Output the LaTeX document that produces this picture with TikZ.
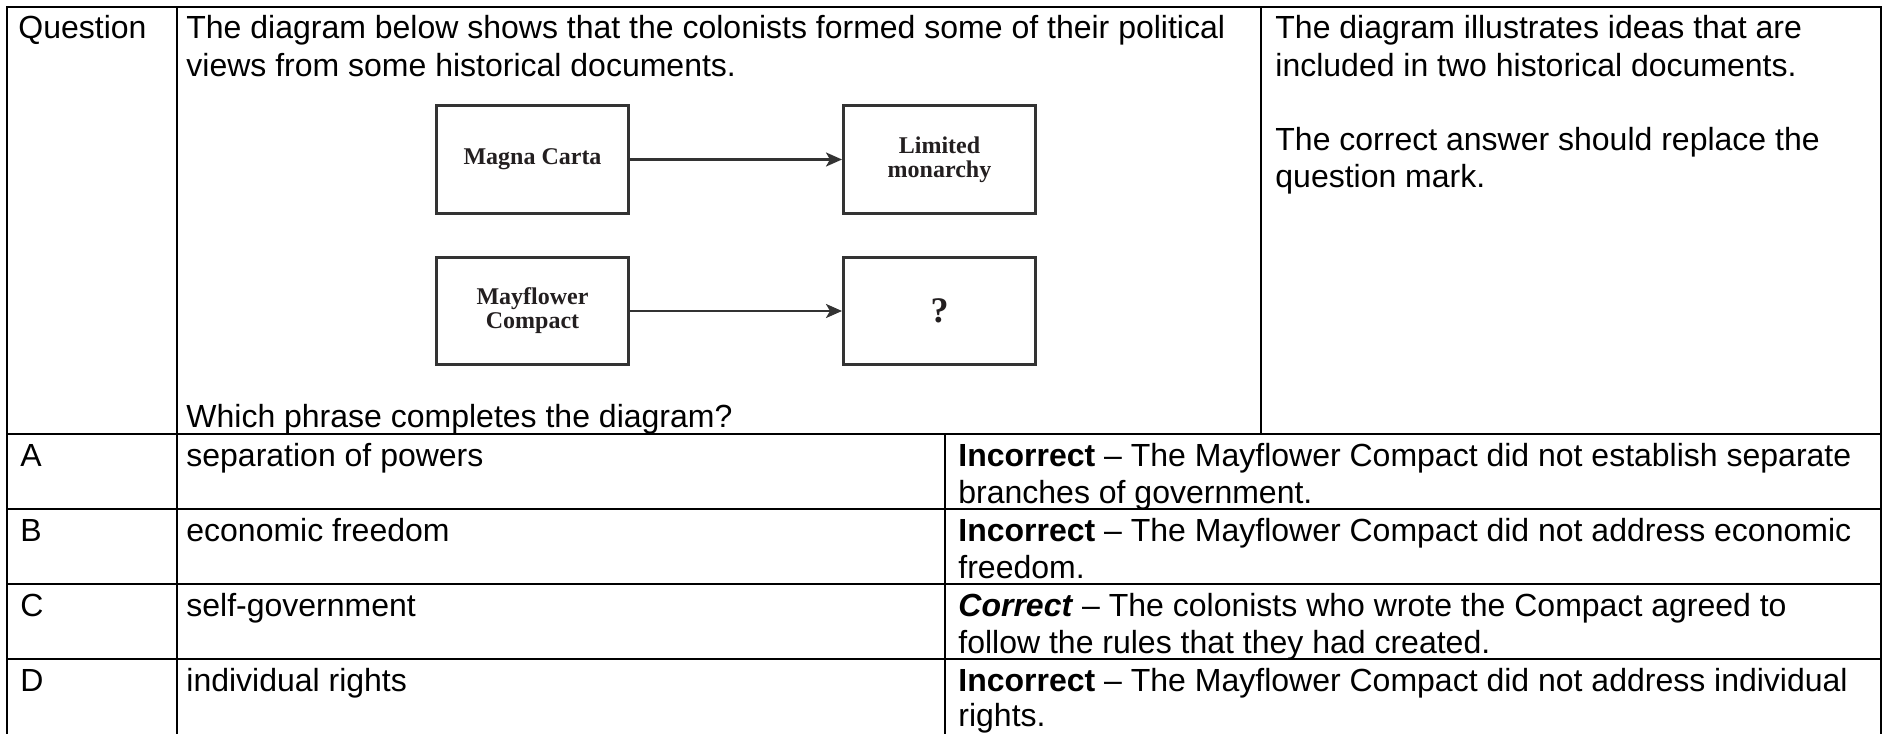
\documentclass[tikz,border=0pt]{standalone}
\usepackage{fontspec}
\setmainfont{Liberation Sans}
\newfontfamily\diagserif{Liberation Serif}
\usetikzlibrary{arrows.meta}
\newcommand\cellfont{\fontsize{16}{18.5}\selectfont}
\definecolor{boxgray}{HTML}{333333}
\definecolor{inktext}{HTML}{231F20}
\tikzset{
  tline/.style={line width=1.4pt, black},
  cell/.style={anchor=base west, inner sep=0pt, font=\cellfont},
  dbox/.style={draw=boxgray, line width=1.5pt, minimum width=96pt, minimum height=53.5pt,
    inner sep=0pt, align=center, text=inktext, font=\diagserif\bfseries\fontsize{12}{12}\selectfont},
  darrow/.style={draw=boxgray, line width=1.2pt, -{Stealth[length=8pt,width=7pt,inset=2pt]}}
}
\begin{document}
\begin{tikzpicture}[x=0.5pt,y=-0.5pt]
\useasboundingbox (0,0) rectangle (1883,733);
\fill[white] (0,0) rectangle (1883,733);
% table rules (bottom edge of the table is cut off by the picture)
\draw[tline] (7,740) -- (7,7) -- (1881,7) -- (1881,740);
\draw[tline] (177,7) -- (177,740);
\draw[tline] (1261,7) -- (1261,434);
\draw[tline] (945,434) -- (945,740);
\draw[tline] (7,434) -- (1881,434);
\draw[tline] (7,509) -- (1881,509);
\draw[tline] (7,584) -- (1881,584);
\draw[tline] (7,659) -- (1881,659);
% header row
\node[cell] (q) at (18,39) {Question};
\node[cell] (s1) at (186,39) {The diagram below shows that the colonists formed some of their political};
\node[cell] (s2) at (186,76) {views from some historical documents.};
\node[cell] (s3) at (186,427) {Which phrase completes the diagram?};
\node[cell] (r1) at (1275,39) {The diagram illustrates ideas that are};
\node[cell] (r2) at (1275,76) {included in two historical documents.};
\node[cell] (r3) at (1275,150) {The correct answer should replace the};
\node[cell] (r4) at (1275,187) {question mark.};
% embedded diagram
\node[dbox] (mc) at (532.5,159.5) {Magna Carta};
\node[dbox] (lm) at (939.5,159.5) {Limited\\monarchy};
\node[dbox] (mf) at (532.5,311) {Mayflower\\Compact};
\node[dbox, font=\diagserif\bfseries\fontsize{18}{18}\selectfont] (qm) at (939.5,311) {?};
\draw[darrow] (mc) -- (lm);
\draw[darrow] (mf) -- (qm);
% answer rows
\node[cell] (la) at (20,466) {A};
\node[cell] (ta) at (186,466) {separation of powers};
\node[cell] (ea1) at (958,466) {\textbf{Incorrect} – The Mayflower Compact did not establish separate};
\node[cell] (ea2) at (958,503) {branches of government.};
\node[cell] (lb) at (20,541) {B};
\node[cell] (tb) at (186,541) {economic freedom};
\node[cell] (eb1) at (958,541) {\textbf{Incorrect} – The Mayflower Compact did not address economic};
\node[cell] (eb2) at (958,578) {freedom.};
\node[cell] (lc) at (20,616) {C};
\node[cell] (tc) at (186,616) {self-government};
\node[cell] (ec1) at (958,616) {\textbf{\textit{Correct}} – The colonists who wrote the Compact agreed to};
\node[cell] (ec2) at (958,653) {follow the rules that they had created.};
\node[cell] (ld) at (20,691) {D};
\node[cell] (td) at (186,691) {individual rights};
\node[cell] (ed1) at (958,691) {\textbf{Incorrect} – The Mayflower Compact did not address individual};
\node[cell] (ed2) at (958,726) {rights.};
\end{tikzpicture}
\end{document}
